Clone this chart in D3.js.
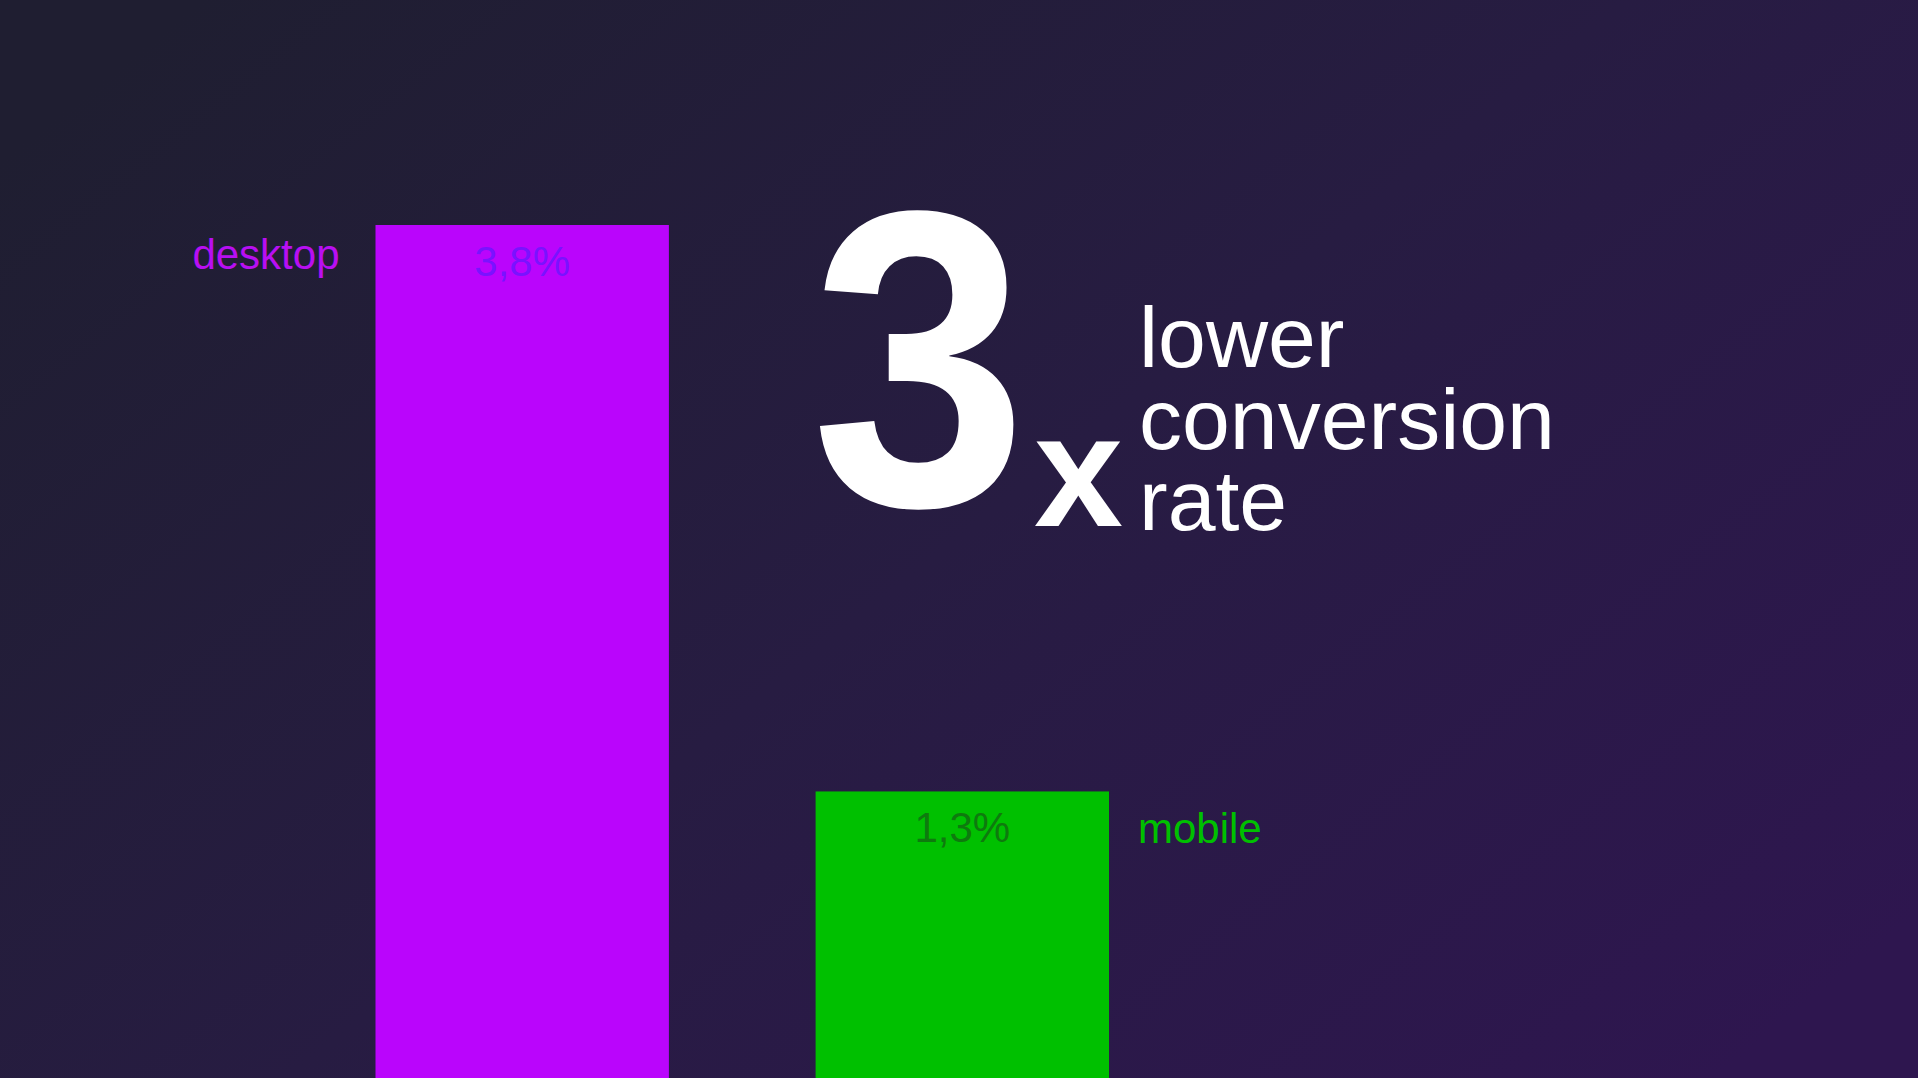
<!DOCTYPE html>
<html>
<head>
<meta charset="utf-8">
<script src="https://cdn.jsdelivr.net/npm/d3@7"></script>
<style>
  html, body { margin: 0; padding: 0; overflow: hidden; background: #231d3a; }
  svg { display: block; }
  text { font-family: "Liberation Sans", Arial, sans-serif; }
</style>
</head>
<body>
<div id="chart"></div>
<script>
// ##### data #####
var categories = ["desktop", "mobile"];
var values = [3.8, 1.3];
var valueLabels = ["3,8%", "1,3%"];
var headlineNumber = "3";
var headlineMult = "x";
var headlineLines = ["lower", "conversion", "rate"];

// ##### styles #####
var barColor = {desktop: "#ba05fc", mobile: "#00c000"};
var labelColor = {desktop: "#b80ff2", mobile: "#00c000"};
var valueColor = {desktop: "#7a12ff", mobile: "#0e7a0e"};

var W = 1918, H = 1078;

var svg = d3.select("#chart").append("svg")
	.attr("width", W)
	.attr("height", H);

// background gradient
var grad = svg.append("defs").append("linearGradient")
	.attr("id", "bg")
	.attr("x1", "0").attr("y1", "0.15")
	.attr("x2", "1").attr("y2", "0.85");
grad.append("stop").attr("offset", "0").attr("stop-color", "#1f1e31");
grad.append("stop").attr("offset", "0.5").attr("stop-color", "#271c42");
grad.append("stop").attr("offset", "1").attr("stop-color", "#2e164f");

svg.append("rect")
	.attr("width", W).attr("height", H)
	.attr("fill", "url(#bg)");

// ##### scales #####
var x = d3.scaleBand()
	.domain(categories)
	.range([375.5, 1109])
	.paddingInner(1 / 3)
	.paddingOuter(0);

var y = d3.scaleLinear()
	.domain([0, 3.8])
	.range([1086, 225]);

var data = categories.map(function(c, i) {
	return {cat: c, value: values[i], label: valueLabels[i]};
});

var g = svg.append("g");

g.selectAll(".bar")
	.data(data)
	.enter().append("rect")
	  .attr("class", "bar")
	  .attr("x", function(d) { return x(d.cat); })
	  .attr("y", function(d) { return y(d.value); })
	  .attr("width", x.bandwidth())
	  .attr("height", function(d) { return y(0) - y(d.value); })
	  .attr("fill", function(d) { return barColor[d.cat]; });

// value labels inside the top of each bar
g.selectAll(".val")
	.data(data)
	.enter().append("text")
	  .attr("class", "val")
	  .attr("x", function(d) { return x(d.cat) + x.bandwidth() / 2; })
	  .attr("y", function(d) { return y(d.value) + 51; })
	  .attr("text-anchor", "middle")
	  .style("font-size", "42px")
	  .attr("fill", function(d) { return valueColor[d.cat]; })
	  .text(function(d) { return d.label; });

// category names: first one to the left, second one to the right
g.selectAll(".cat")
	.data(data)
	.enter().append("text")
	  .attr("class", "cat")
	  .attr("x", function(d, i) { return i === 0 ? x(d.cat) - 36 : x(d.cat) + x.bandwidth() + 29; })
	  .attr("y", function(d, i) { return y(d.value) + (i === 0 ? 44 : 52); })
	  .attr("text-anchor", function(d, i) { return i === 0 ? "end" : "start"; })
	  .style("font-size", "42px")
	  .attr("fill", function(d) { return labelColor[d.cat]; })
	  .text(function(d) { return d.cat; });

// ##### headline #####
var hl = svg.append("g").attr("fill", "#ffffff");

// the big digit is a little narrower and taller than plain Liberation Sans Bold
hl.append("text")
	.attr("transform", "translate(811,505) scale(0.94,1.02)")
	.style("font-size", "414px")
	.style("font-weight", "bold")
	.text(headlineNumber);

hl.append("text")
	.attr("x", 1034)
	.attr("y", 526)
	.style("font-size", "160px")
	.style("font-weight", "bold")
	.text(headlineMult);

hl.selectAll(".hline")
	.data(headlineLines)
	.enter().append("text")
	  .attr("class", "hline")
	  .attr("x", 1139)
	  .attr("y", function(d, i) { return 367 + i * 81.5; })
	  .style("font-size", "86px")
	  .text(function(d) { return d; });
</script>
</body>
</html>
